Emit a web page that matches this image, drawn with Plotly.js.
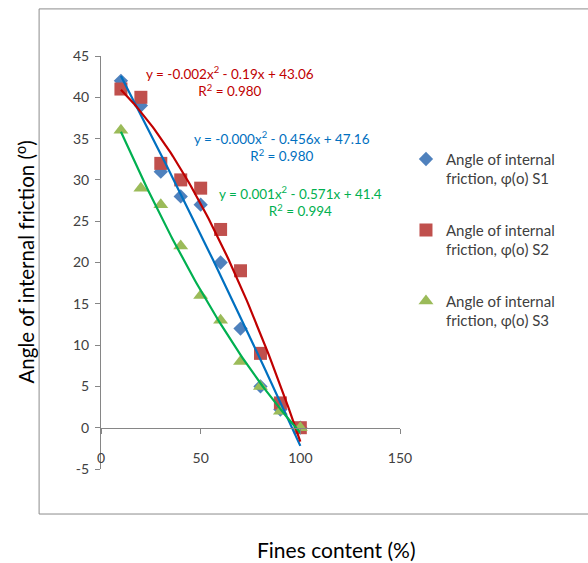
<!DOCTYPE html>
<html>
<head>
<meta charset="utf-8">
<script src="https://cdn.plot.ly/plotly-3.0.1.min.js"></script>
<style>html,body{margin:0;padding:0;background:#fff;}#chart{width:588px;height:563px;}</style>
</head>
<body>
<div id="chart"></div>
<script>
// ---- data ----
var finesContent = [10, 20, 30, 40, 50, 60, 70, 80, 90, 100];
var phiS1 = [42, 39, 31, 28, 27, 20, 12, 5, 2.2, 0];
var phiS2 = [41, 40, 32, 30, 29, 24, 19, 9, 3, 0];
var phiS3 = [36, 29, 27, 22, 16, 13, 8, 5, 2, 0];
var seriesNames = ["Angle of internal<br>friction, φ(o) S1", "Angle of internal<br>friction, φ(o) S2", "Angle of internal<br>friction, φ(o) S3"];
var equationText = [
  "y = -0.000x<sup>2</sup> - 0.456x + 47.16<br>R<sup>2</sup> = 0.980",
  "y = -0.002x<sup>2</sup> - 0.19x + 43.06<br>R<sup>2</sup> = 0.980",
  "y = 0.001x<sup>2</sup> - 0.571x + 41.4<br>R<sup>2</sup> = 0.994"
];
var xTickVals = [0, 50, 100, 150];
var yTickVals = [-5, 0, 5, 10, 15, 20, 25, 30, 35, 40, 45];
var yTickText = ["-5", "0", "5", "10", "15", "20", "25", "30", "35", "40", "45"];
var xTitle = "Fines content (%)";
var yTitle = "Angle of internal friction (<sup>o</sup>)";

// ---- quadratic least-squares trendline computed from the data ----
function quadFit(xs, ys) {
  var n = xs.length, s = [0,0,0,0,0], t = [0,0,0];
  for (var i = 0; i < n; i++) {
    var p = 1;
    for (var k = 0; k < 5; k++) { s[k] += p; if (k < 3) t[k] += p * ys[i]; p *= xs[i]; }
  }
  var A = [[s[0], s[1], s[2], t[0]], [s[1], s[2], s[3], t[1]], [s[2], s[3], s[4], t[2]]];
  for (var c = 0; c < 3; c++) {
    for (var r = c + 1; r < 3; r++) {
      var f = A[r][c] / A[c][c];
      for (var j = c; j < 4; j++) A[r][j] -= f * A[c][j];
    }
  }
  var b = [0,0,0];
  for (var r2 = 2; r2 >= 0; r2--) {
    var v = A[r2][3];
    for (var j2 = r2 + 1; j2 < 3; j2++) v -= A[r2][j2] * b[j2];
    b[r2] = v / A[r2][r2];
  }
  return b; // c0, c1, c2
}
function trend(xs, ys) {
  var b = quadFit(xs, ys), lx = [], ly = [];
  var x0 = Math.min.apply(null, xs), x1 = Math.max.apply(null, xs);
  for (var x = x0; x <= x1 + 1e-9; x += 1) { lx.push(x); ly.push(b[0] + b[1] * x + b[2] * x * x); }
  return {x: lx, y: ly};
}

var markerColors = ["#4F81BD", "#C0504D", "#9BBB59"];
var lineColors = ["#0070C0", "#C00000", "#00B050"];
var symbols = ["diamond", "square", "triangle-up"];
var sizes = [11, 13, 13];
var ys = [phiS1, phiS2, phiS3];

var traces = [];
for (var i = 0; i < 3; i++) {
  traces.push({
    type: "scatter", mode: "markers", x: finesContent, y: ys[i], name: seriesNames[i],
    legendgroup: "g" + i,
    marker: {symbol: symbols[i], size: sizes[i], color: markerColors[i], line: {width: 0}}
  });
}
for (var i2 = 0; i2 < 3; i2++) {
  var tl = trend(finesContent, ys[i2]);
  traces.push({
    type: "scatter", mode: "lines", x: tl.x, y: tl.y, showlegend: false, hoverinfo: "skip",
    line: {color: lineColors[i2], width: 2.2}
  });
}

var FONT = "Lato, 'Open Sans', sans-serif";
var eqPos = [[0.605, 0.780], [0.43, 0.938], [0.666, 0.648]];
var annotations = [];
for (var k = 0; k < 3; k++) {
  annotations.push({
    xref: "paper", yref: "paper", x: eqPos[k][0], y: eqPos[k][1], xanchor: "center", yanchor: "middle",
    text: equationText[k], showarrow: false, align: "center",
    font: {family: FONT, size: 13.5, color: lineColors[k]}
  });
}
annotations.push({
  xref: "paper", yref: "paper", x: 0.786, y: -0.196, xanchor: "center", yanchor: "middle",
  text: xTitle, showarrow: false, font: {family: FONT, size: 21, color: "#000"}
});
annotations.push({
  xref: "paper", yref: "paper", x: -0.254, y: 0.5, xanchor: "center", yanchor: "middle",
  text: yTitle, showarrow: false, textangle: -90, font: {family: FONT, size: 20.5, color: "#000"}
});

var layout = {
  width: 588, height: 563,
  margin: {l: 101, r: 188, t: 56, b: 94, pad: 0},
  paper_bgcolor: "#fff", plot_bgcolor: "rgba(0,0,0,0)",
  font: {family: FONT, size: 14, color: "#404040"},
  showlegend: true,
  legend: {
    x: 1.02, y: 0.79, xanchor: "left", yanchor: "top",
    font: {family: FONT, size: 15, color: "#404040"},
    traceorder: "grouped", tracegroupgap: 29, valign: "top", bgcolor: "rgba(0,0,0,0)"
  },
  xaxis: {
    range: [0, 150], tickvals: xTickVals, anchor: "free", position: 0.1,
    showline: true, linecolor: "#868686", linewidth: 1, ticks: "outside", ticklen: 5, tickcolor: "#868686",
    showgrid: false, zeroline: false, ticklabelstandoff: 12,
    tickfont: {family: FONT, size: 14, color: "#404040"}
  },
  yaxis: {
    range: [-5, 45], tickvals: yTickVals, ticktext: yTickText,
    showline: true, linecolor: "#868686", linewidth: 1, ticks: "outside", ticklen: 5, tickcolor: "#868686",
    showgrid: false, zeroline: false, ticklabelstandoff: 3,
    tickfont: {family: FONT, size: 14, color: "#404040"}
  },
  shapes: [{
    type: "rect", xref: "paper", yref: "paper", x0: -0.207, x1: 1.8, y0: -0.109, y1: 1.114,
    line: {color: "#8c8c8c", width: 1}, fillcolor: "rgba(0,0,0,0)", layer: "below"
  }],
  annotations: annotations
};

Plotly.newPlot("chart", traces, layout, {displayModeBar: false});
</script>
</body>
</html>
